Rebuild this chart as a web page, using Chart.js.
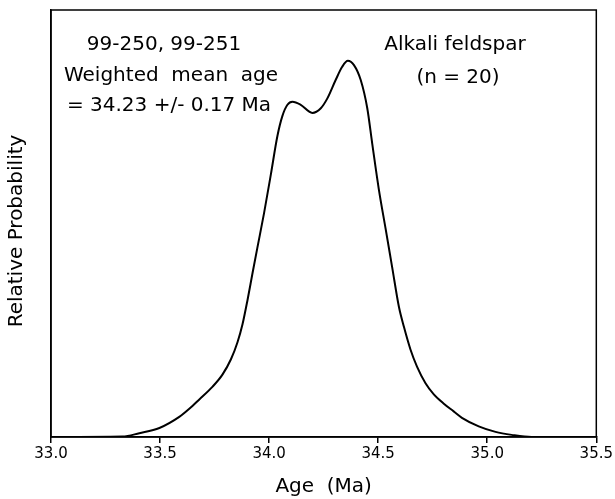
<!DOCTYPE html>
<html>
<head>
<meta charset="utf-8">
<script src="https://cdn.jsdelivr.net/npm/chart.js@4.4.1/dist/chart.umd.min.js"></script>
<style>
  html, body { margin: 0; padding: 0; background: #fff; }
  #wrap { width: 615px; height: 499px; }
</style>
</head>
<body>
<div id="wrap"><canvas id="probChart" width="615" height="499"></canvas></div>
<script>
// age (Ma) and relative probability
const ages = [33.0, 33.328, 33.405, 33.497, 33.588, 33.634, 33.68, 33.741, 33.786, 33.825, 33.855, 33.878,
  33.901, 33.924, 33.946, 33.977, 34.008, 34.038, 34.061, 34.084, 34.107, 34.145, 34.198, 34.237,
  34.267, 34.305, 34.335, 34.361, 34.389, 34.42, 34.45, 34.473, 34.503, 34.534, 34.564, 34.595,
  34.618, 34.648, 34.678, 34.717, 34.755, 34.801, 34.846, 34.884, 34.961, 35.038, 35.112, 35.203, 35.5];
const prob = [0, 0.001, 0.009, 0.021, 0.047, 0.066, 0.088, 0.118, 0.146, 0.182, 0.222, 0.264,
  0.321, 0.384, 0.443, 0.525, 0.615, 0.705, 0.752, 0.778, 0.785, 0.778, 0.759, 0.77,
  0.793, 0.836, 0.867, 0.881, 0.871, 0.836, 0.77, 0.686, 0.58, 0.488, 0.398, 0.305,
  0.258, 0.205, 0.165, 0.126, 0.1, 0.078, 0.06, 0.045, 0.025, 0.012, 0.005, 0, 0];
const tickVals = [33.0, 33.5, 34.0, 34.5, 35.0, 35.5];
const leftNote = ["99-250, 99-251", "Weighted  mean  age", "= 34.23 +/- 0.17 Ma"];
const rightNote = ["Alkali feldspar", "(n = 20)"];

const FONT = "'DejaVu Sans', Verdana, sans-serif";

const framePlugin = {
  id: "frame",
  afterDraw(chart) {
    const { ctx, chartArea: a } = chart;
    ctx.save();
    ctx.strokeStyle = "#000";
    ctx.lineWidth = 1.5;
    ctx.strokeRect(a.left, a.top, a.right - a.left, a.bottom - a.top);
    ctx.fillStyle = "#000";
    ctx.font = "20px " + FONT;
    ctx.textAlign = "center";
    ctx.textBaseline = "middle";
    const lx = [164, 171, 169];
    const ly = [45, 76, 106];
    leftNote.forEach((t, i) => ctx.fillText(t, lx[i], ly[i]));
    ctx.fillText(rightNote[0], 455, 45);
    ctx.fillText(rightNote[1], 458, 78);
    // y axis title
    ctx.translate(17, 231);
    ctx.rotate(-Math.PI / 2);
    ctx.fillText("Relative Probability", 0, 0);
    ctx.restore();
  }
};

new Chart(document.getElementById("probChart").getContext("2d"), {
  type: "line",
  data: {
    datasets: [{
      data: ages.map((a, i) => ({ x: a, y: prob[i] })),
      borderColor: "#000",
      borderWidth: 2,
      pointRadius: 0,
      fill: false,
      cubicInterpolationMode: "monotone"
    }]
  },
  options: {
    responsive: false,
    animation: false,
    devicePixelRatio: 1,
    layout: { padding: { left: 0, top: 10, right: 17, bottom: 0 } },
    plugins: { legend: { display: false }, tooltip: { enabled: false } },
    scales: {
      x: {
        type: "linear",
        min: 33.0,
        max: 35.5,
        afterBuildTicks: (s) => { s.ticks = tickVals.map(v => ({ value: v })); },
        afterFit: (s) => { s.height = 62; },
        ticks: {
          color: "#000",
          font: { family: FONT, size: 15 },
          padding: 2,
          maxRotation: 0,
          callback: (v) => Number(v).toFixed(1)
        },
        grid: { drawOnChartArea: false, tickLength: 6, color: "#000", lineWidth: 1.5 },
        border: { color: "#000", width: 1.5 },
        title: {
          display: true,
          text: "Age  (Ma)",
          color: "#000",
          font: { family: FONT, size: 20 },
          padding: { top: 0, bottom: 0 }
        }
      },
      y: {
        min: 0,
        max: 1,
        afterFit: (s) => { s.width = 51; },
        ticks: { display: false },
        grid: { display: false },
        border: { color: "#000", width: 1.5 }
      }
    }
  },
  plugins: [framePlugin]
});
</script>
</body>
</html>
